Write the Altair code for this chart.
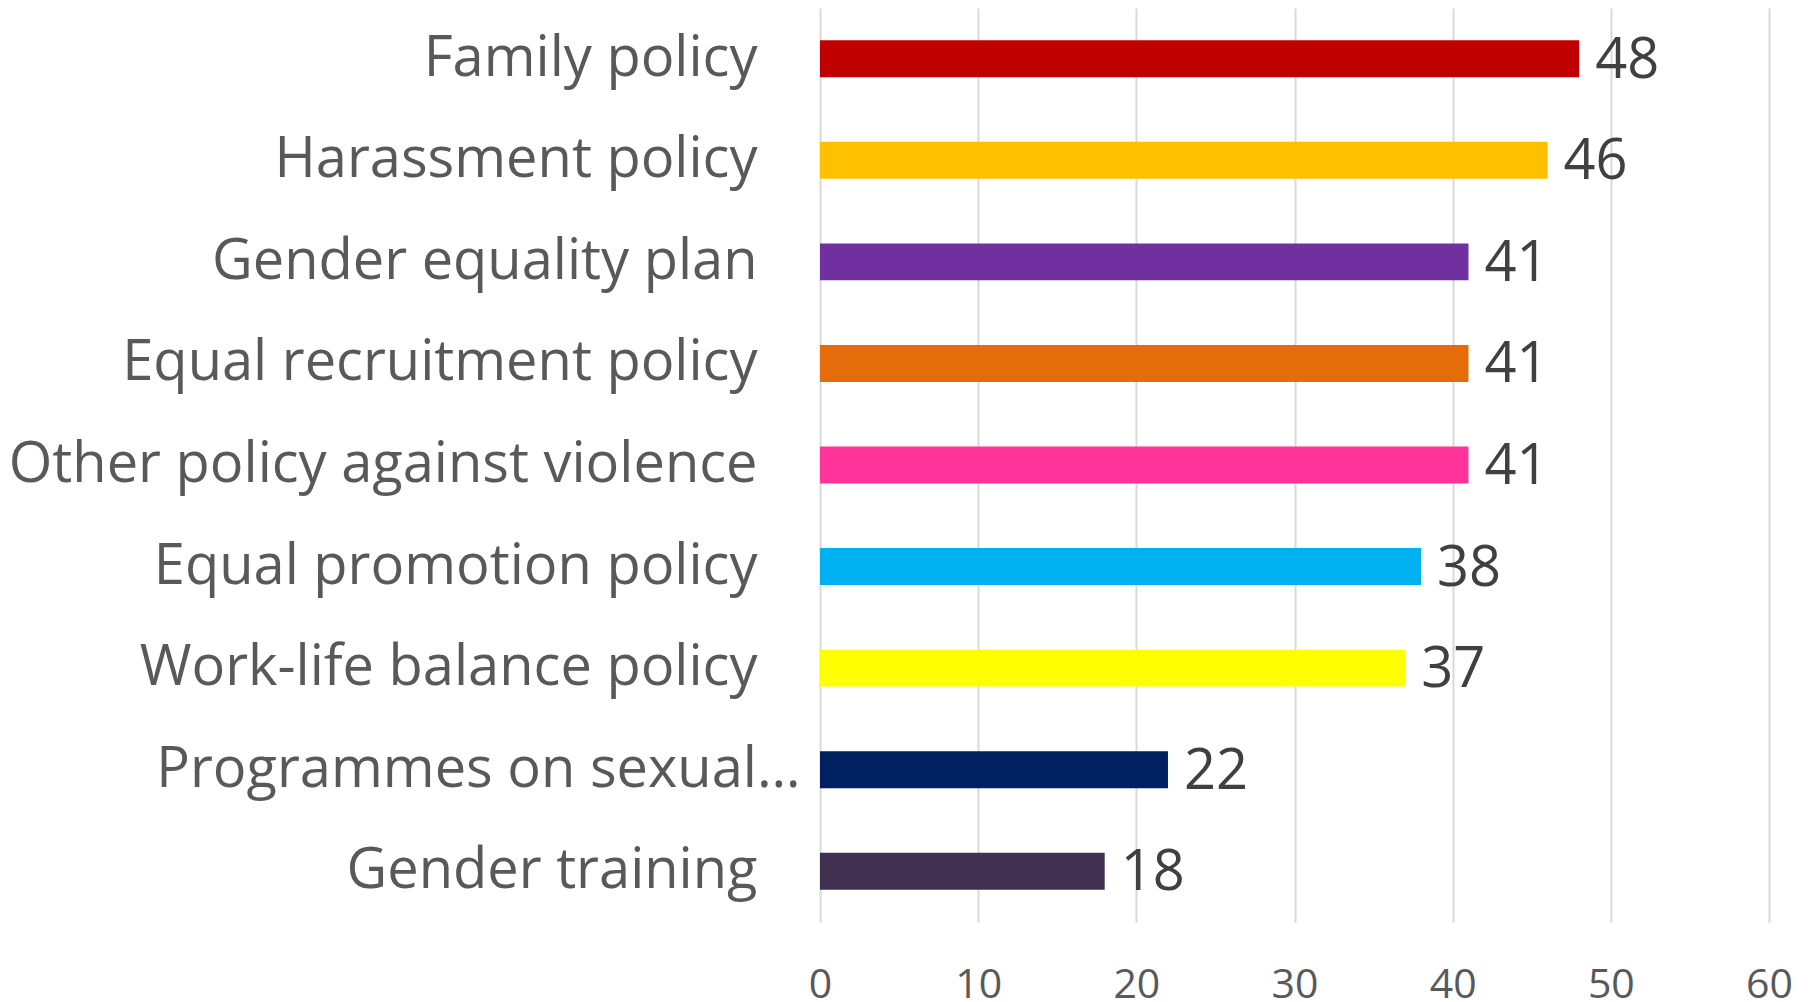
import altair as alt
import pandas as pd

categories = [
    "Family policy",
    "Harassment policy",
    "Gender equality plan",
    "Equal recruitment policy",
    "Other policy against violence",
    "Equal promotion policy",
    "Work-life balance policy",
    "Programmes on sexual…",
    "Gender training",
]
values = [48, 46, 41, 41, 41, 38, 37, 22, 18]
colors = ["#C00000", "#FFC000", "#7030A0", "#E46C0A", "#FF3399",
          "#00B0F0", "#FFFF00", "#002060", "#403151"]
x_ticks = [0, 10, 20, 30, 40, 50, 60]

df = pd.DataFrame({"category": categories, "value": values, "color": colors})

FONT = "Open Sans"

y_enc = alt.Y(
    "category:N",
    sort=categories,
    title=None,
    scale=alt.Scale(paddingInner=0.636, paddingOuter=0.318),
    axis=alt.Axis(
        labelFont=FONT, labelFontSize=56, labelColor="#595959",
        labelPadding=alt.ExprRef(
            "test(/^Programmes/, datum.value) ? 20 : 63"),
        ticks=False, domain=False, labelLimit=1000,
    ),
)

x_enc = alt.X(
    "value:Q",
    title=None,
    scale=alt.Scale(domain=[0, 60], nice=False),
    axis=alt.Axis(
        values=x_ticks,
        labelFont=FONT, labelFontSize=41, labelColor="#595959",
        labelPadding=43, labelFlush=False, ticks=False, domain=False,
        grid=True, gridColor="#D9D9D9", gridWidth=2,
    ),
)

bars = alt.Chart(df).mark_bar().encode(
    x=x_enc,
    y=y_enc,
    color=alt.Color("color:N", scale=None),
)

labels = alt.Chart(df).mark_text(
    align="left", baseline="middle", dx=16, dy=2,
    font=FONT, fontSize=56, color="#404040",
).encode(
    x="value:Q",
    y=alt.Y("category:N", sort=categories),
    text="value:Q",
)

chart = (bars + labels).properties(
    width=949, height=914, padding=0, background="white",
).configure_view(stroke=None)

chart.save("out.html", embed_options={"renderer": "svg", "actions": False})
